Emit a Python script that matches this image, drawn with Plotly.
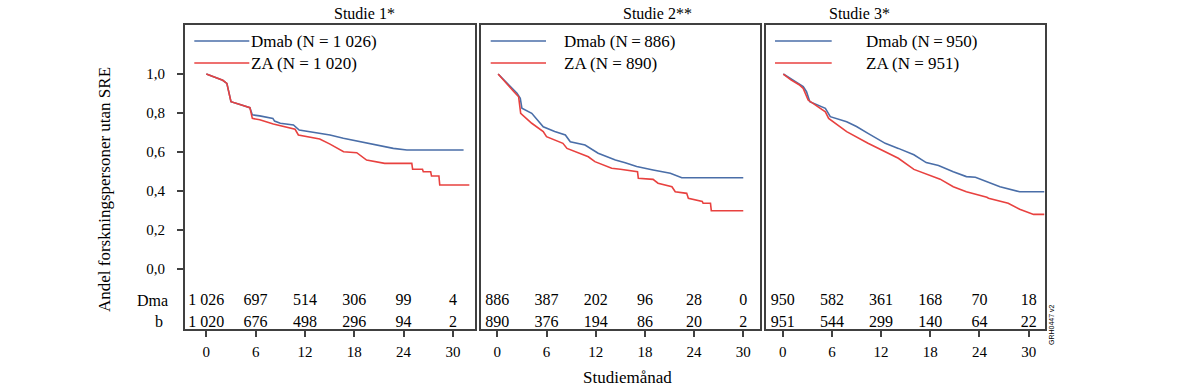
import plotly.graph_objects as go

# ---------------- data ----------------
tick_months = [0, 6, 12, 18, 24, 30]
ytick_vals = [0.0, 0.2, 0.4, 0.6, 0.8, 1.0]
ytick_text = ["0,0", "0,2", "0,4", "0,6", "0,8", "1,0"]

study_titles = ["Studie 1*", "Studie 2**", "Studie 3*"]
dmab_labels = ["Dmab (N = 1 026)", "Dmab (N\u2009=\u2009886)", "Dmab (N\u2009=\u2009950)"]
za_labels = ["ZA (N = 1 020)", "ZA (N = 890)", "ZA (N = 951)"]

# Study 1
s1_dmab_t = [0, 1.0, 2.0, 2.5, 2.8, 3.0, 4.0, 5.3, 5.6, 6.5, 8.1, 8.3, 9.0, 10.6, 11.3, 12.5, 14.0,
             15.05, 16.67, 18.3, 19.9, 21.5, 22.75, 24.4, 31.3]
s1_dmab_s = [1.0, 0.985, 0.968, 0.952, 0.90, 0.858, 0.845, 0.827, 0.790, 0.785, 0.772, 0.758, 0.747,
             0.738, 0.712, 0.705, 0.693, 0.687, 0.670, 0.657, 0.644, 0.630, 0.618, 0.610, 0.610]
s1_za_t = [0, 1.0, 2.0, 2.5, 2.8, 3.0, 4.0, 5.3, 5.6, 6.5, 8.15, 9.5, 10.8, 11.2, 12.5, 13.8, 15.05,
           16.7, 18.3, 19.5, 21.7, 25.0, 25.1, 26.3, 26.4, 27.3, 27.4, 28.3, 28.4, 32.0]
s1_za_s = [1.0, 0.985, 0.968, 0.952, 0.90, 0.858, 0.845, 0.827, 0.772, 0.765, 0.743, 0.730, 0.716,
           0.687, 0.678, 0.666, 0.640, 0.601, 0.596, 0.558, 0.541, 0.541, 0.511, 0.511, 0.498,
           0.498, 0.476, 0.476, 0.430, 0.430]

# Study 2
s2_dmab_t = [0.1, 1.0, 2.0, 2.4, 2.8, 3.0, 4.2, 5.6, 7.0, 8.3, 8.9, 10.7, 12.3, 14.4, 15.6, 17.0,
             19.0, 21.1, 22.5, 30.0]
s2_dmab_s = [1.0, 0.96, 0.92, 0.901, 0.875, 0.824, 0.798, 0.729, 0.705, 0.687, 0.652, 0.635, 0.593,
             0.558, 0.544, 0.525, 0.507, 0.490, 0.467, 0.467]
s2_za_t = [0.1, 1.0, 2.0, 2.6, 2.85, 4.2, 5.6, 6.0, 8.0, 8.5, 11.1, 11.9, 13.95, 15.0, 16.8, 17.1,
           17.2, 19.0, 19.6, 21.3, 21.7, 23.1, 23.3, 25.0, 25.1, 26.0, 26.1, 30.0]
s2_za_s = [1.0, 0.955, 0.91, 0.883, 0.798, 0.747, 0.704, 0.678, 0.644, 0.618, 0.575, 0.550, 0.516,
           0.511, 0.498, 0.498, 0.464, 0.459, 0.439, 0.421, 0.395, 0.387, 0.362, 0.345, 0.336,
           0.336, 0.298, 0.298]

# Study 3
s3_dmab_t = [0.07, 1.0, 2.0, 2.5, 2.9, 3.3, 5.2, 5.8, 7.8, 9.0, 10.4, 12.5, 14.1, 16.0, 17.5, 19.0,
             20.8, 22.4, 23.5, 24.9, 26.5, 28.9, 31.9]
s3_dmab_s = [1.0, 0.975, 0.95, 0.935, 0.909, 0.858, 0.824, 0.781, 0.755, 0.730, 0.695, 0.644, 0.618,
             0.585, 0.545, 0.530, 0.498, 0.473, 0.470, 0.447, 0.421, 0.395, 0.395]
s3_za_t = [0.07, 1.0, 2.0, 2.5, 3.1, 5.2, 5.6, 7.8, 10.4, 12.5, 14.1, 16.0, 18.0, 19.2, 20.8, 22.4,
           24.9, 25.1, 27.5, 28.9, 30.6, 31.9]
s3_za_s = [1.0, 0.97, 0.945, 0.926, 0.866, 0.806, 0.772, 0.704, 0.644, 0.601, 0.567, 0.510, 0.480,
           0.460, 0.421, 0.395, 0.367, 0.362, 0.336, 0.305, 0.279, 0.279]

risk_dmab = [["1 026", "697", "514", "306", "99", "4"],
             ["886", "387", "202", "96", "28", "0"],
             ["950", "582", "361", "168", "70", "18"]]
risk_za = [["1 020", "676", "498", "296", "94", "2"],
           ["890", "376", "194", "86", "20", "2"],
           ["951", "544", "299", "140", "64", "22"]]

curves = [(s1_dmab_t, s1_dmab_s, s1_za_t, s1_za_s),
          (s2_dmab_t, s2_dmab_s, s2_za_t, s2_za_s),
          (s3_dmab_t, s3_dmab_s, s3_za_t, s3_za_s)]

# ---------------- style / layout ----------------
W, H = 1198, 391
FONT = "Times New Roman, Liberation Serif, DejaVu Serif, serif"
BLUE = "#4a6ea8"
RED = "#e8413f"
FRAME = "#404040"


def fx(p):
    return p / W


def fy(p):
    return 1 - p / H


px_left = [184.7, 481.0, 766.0]
px_right = [475.0, 760.0, 1045.0]
x_ranges = [[-2.63, 32.69], [-1.99, 32.04], [-2.04, 31.99]]
y_range = [-0.3097, 1.2517]
dom_y = [fy(329), fy(25)]
risk_y_dmab = -0.164
risk_y_za = -0.281

fig = go.Figure()

for i in range(3):
    xa = "x" if i == 0 else f"x{i+1}"
    ya = "y" if i == 0 else f"y{i+1}"
    dt, ds, zt, zs = curves[i]
    fig.add_trace(go.Scatter(x=dt, y=ds, mode="lines", line=dict(color=BLUE, width=1.6),
                             xaxis=xa, yaxis=ya, showlegend=False, hoverinfo="skip"))
    fig.add_trace(go.Scatter(x=zt, y=zs, mode="lines", line=dict(color=RED, width=1.6),
                             xaxis=xa, yaxis=ya, showlegend=False, hoverinfo="skip"))
    fig.add_trace(go.Scatter(x=tick_months, y=[risk_y_dmab] * 6, mode="text", text=risk_dmab[i],
                             textfont=dict(family=FONT, size=16, color="black"),
                             textposition="middle center", cliponaxis=False,
                             xaxis=xa, yaxis=ya, showlegend=False, hoverinfo="skip"))
    fig.add_trace(go.Scatter(x=tick_months, y=[risk_y_za] * 6, mode="text", text=risk_za[i],
                             textfont=dict(family=FONT, size=16, color="black"),
                             textposition="middle center", cliponaxis=False,
                             xaxis=xa, yaxis=ya, showlegend=False, hoverinfo="skip"))

    xkey = "xaxis" if i == 0 else f"xaxis{i+1}"
    ykey = "yaxis" if i == 0 else f"yaxis{i+1}"
    fig.layout[xkey] = dict(
        domain=[fx(px_left[i]), fx(px_right[i])], range=x_ranges[i], anchor=ya,
        showline=True, mirror=True, linecolor=FRAME, linewidth=1.6, automargin=False,
        showgrid=False, zeroline=False, tickmode="array", tickvals=tick_months,
        ticktext=[str(m) for m in tick_months], ticks="outside", ticklen=6,
        tickcolor=FRAME, tickwidth=1.6, ticklabelstandoff=2,
        tickfont=dict(family=FONT, size=15, color="black"), fixedrange=True)
    fig.layout[ykey] = dict(
        domain=dom_y, range=y_range, anchor=xa, automargin=False,
        showline=True, mirror=True, linecolor=FRAME, linewidth=1.6,
        showgrid=False, zeroline=False, tickmode="array",
        tickvals=ytick_vals if i == 0 else [], ticktext=ytick_text if i == 0 else [],
        ticks="outside" if i == 0 else "", ticklen=6, tickcolor=FRAME, tickwidth=1.6,
        ticklabelstandoff=9, showticklabels=(i == 0),
        tickfont=dict(family=FONT, size=15, color="black"), fixedrange=True)

annotations = []
shapes = []
title_x = [364, 657, 859]
leg_line = [(194.3, 249.3), (490.7, 546.0), (775.0, 831.7)]
leg_text_x = [249.3, 561.7, 864.3]
for i in range(3):
    annotations.append(dict(x=fx(title_x[i]), y=fy(13), xref="paper", yref="paper",
                            text=study_titles[i], showarrow=False, xanchor="center", yanchor="middle",
                            font=dict(family=FONT, size=16, color="black")))
    for lab, yy, col in [(dmab_labels[i], 41, BLUE), (za_labels[i], 63, RED)]:
        shapes.append(dict(type="line", xref="paper", yref="paper",
                           x0=fx(leg_line[i][0]), x1=fx(leg_line[i][1]),
                           y0=fy(yy), y1=fy(yy), line=dict(color=col, width=1.6)))
        annotations.append(dict(x=fx(leg_text_x[i]), y=fy(yy), xref="paper", yref="paper",
                                text=lab, showarrow=False, xanchor="left", yanchor="middle",
                                font=dict(family=FONT, size=17, color="black")))

annotations += [
    dict(x=fx(105), y=fy(190), xref="paper", yref="paper", text="Andel forskningspersoner utan SRE",
         textangle=-90, showarrow=False, xanchor="center", yanchor="middle",
         font=dict(family=FONT, size=17, color="black")),
    dict(x=fx(627), y=fy(377), xref="paper", yref="paper", text="Studiemånad",
         showarrow=False, xanchor="center", yanchor="middle",
         font=dict(family=FONT, size=17, color="black")),
    dict(x=fx(152), y=fy(300), xref="paper", yref="paper", text="Dma",
         showarrow=False, xanchor="center", yanchor="middle",
         font=dict(family=FONT, size=16, color="black")),
    dict(x=fx(159), y=fy(321), xref="paper", yref="paper", text="b",
         showarrow=False, xanchor="center", yanchor="middle",
         font=dict(family=FONT, size=16, color="black")),
    dict(x=fx(1051), y=fy(325), xref="paper", yref="paper", text="GRH0447 v2",
         textangle=-90, showarrow=False, xanchor="center", yanchor="middle",
         font=dict(family="Liberation Sans, Arial, sans-serif", size=7, color="black")),
]

fig.update_layout(width=W, height=H, margin=dict(l=0, r=0, t=0, b=0),
                  font=dict(family=FONT, color="black"),
                  paper_bgcolor="white", plot_bgcolor="white",
                  annotations=annotations, shapes=shapes, showlegend=False)

# remove the browser's default 8px page margin so the figure fills the window
fig.write_html("out.html", config={"displayModeBar": False},
               post_script="document.body.style.margin='0';document.body.style.overflow='hidden';")
